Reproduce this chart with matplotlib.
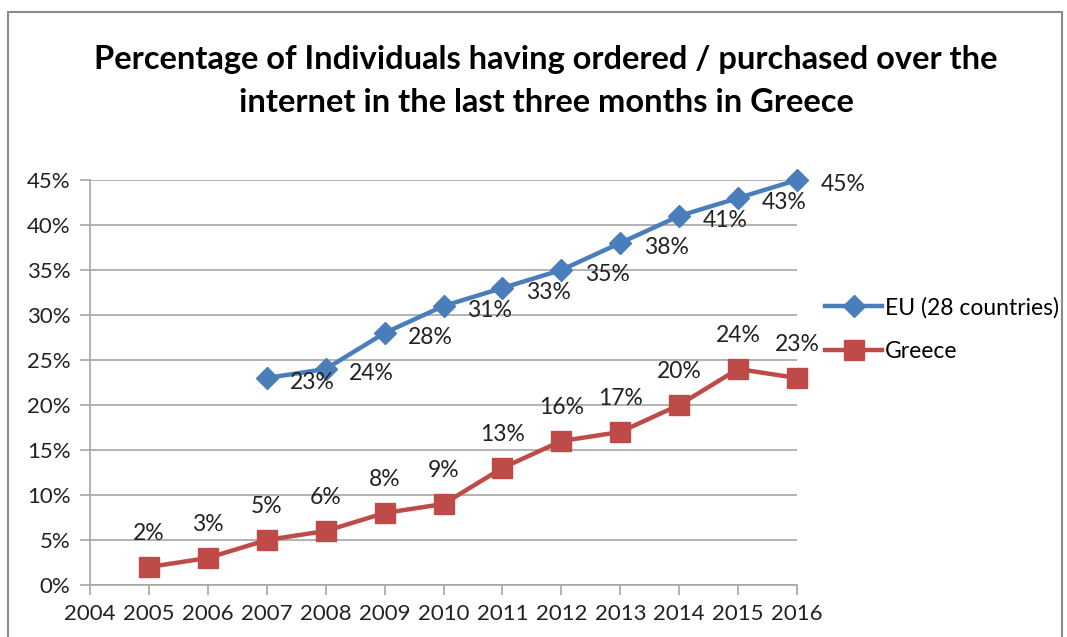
import numpy as np
import matplotlib.pyplot as plt
from matplotlib.patches import Rectangle

plt.rcParams['font.family'] = ['Lato', 'DejaVu Sans']

# Online purchases in the last three months (% of individuals)
eu_years = [2007, 2008, 2009, 2010, 2011, 2012, 2013, 2014, 2015, 2016]
eu_values = [23, 24, 28, 31, 33, 35, 38, 41, 43, 45]
gr_years = [2005, 2006, 2007, 2008, 2009, 2010, 2011, 2012, 2013, 2014, 2015, 2016]
gr_values = [2, 3, 5, 6, 8, 9, 13, 16, 17, 20, 24, 23]
year_ticks = list(range(2004, 2017))
pct_ticks = list(range(0, 50, 5))

blue = '#4A7EBB'
red = '#BE4B48'
grid_c = '#A6A6A6'

fig = plt.figure(figsize=(10.67, 6.37), dpi=100)
ax = fig.add_axes([90 / 1067, 1 - 585 / 637, (797 - 90) / 1067, (585 - 180) / 637])

# outer chart frame
fig.patches.append(Rectangle((8 / 1067, -0.05), (1062 - 8) / 1067, 1 - 12 / 637 + 0.05,
                             transform=fig.transFigure, fill=False,
                             edgecolor='#8C8C8C', linewidth=1.5))

ax.plot(eu_years, eu_values, color=blue, lw=3.2, marker='D', ms=11,
        label='EU (28 countries)', zorder=3, clip_on=False)
ax.plot(gr_years, gr_values, color=red, lw=3.2, marker='s', ms=14,
        label='Greece', zorder=3, clip_on=False)

for x, y in zip(eu_years, eu_values):
    ax.annotate(f'{y}%', (x, y), xytext=(17, -3), textcoords='offset points',
                ha='left', va='center', fontsize=16.5, color='#222222')
for x, y in zip(gr_years, gr_values):
    ax.annotate(f'{y}%', (x, y), xytext=(0, 24), textcoords='offset points',
                ha='center', va='center', fontsize=16.5, color='#222222')

ax.set_xlim(2004, 2016)
ax.set_ylim(0, 45)
ax.set_xticks(year_ticks)
ax.set_yticks(pct_ticks)
ax.set_yticklabels([f'{p}%' for p in pct_ticks])
ax.grid(axis='y', color=grid_c, lw=1.2)
ax.set_axisbelow(True)
for s in ['top', 'right']:
    ax.spines[s].set_visible(False)
for s in ['left', 'bottom']:
    ax.spines[s].set_color(grid_c)
    ax.spines[s].set_linewidth(1.2)
ax.tick_params(axis='both', labelsize=16, color=grid_c, length=7, width=1.2,
               labelcolor='#222222')
ax.tick_params(axis='x', pad=7)
ax.tick_params(axis='y', pad=7)

fig.text(546 / 1067, 1 - 60 / 637, 'Percentage of Individuals having ordered / purchased over the',
         ha='center', va='center', fontsize=23.5, fontweight='bold')
fig.text(546 / 1067, 1 - 102 / 637, 'internet in the last three months in Greece',
         ha='center', va='center', fontsize=23.5, fontweight='bold')

ax.legend(loc='upper left', bbox_to_anchor=(825 / 1067, 1 - 297 / 637),
          bbox_transform=fig.transFigure, frameon=False, fontsize=16.5,
          handlelength=2.5, handletextpad=0.1, labelspacing=1.0,
          borderaxespad=0, borderpad=0)

fig.savefig('out.png', dpi=100)
